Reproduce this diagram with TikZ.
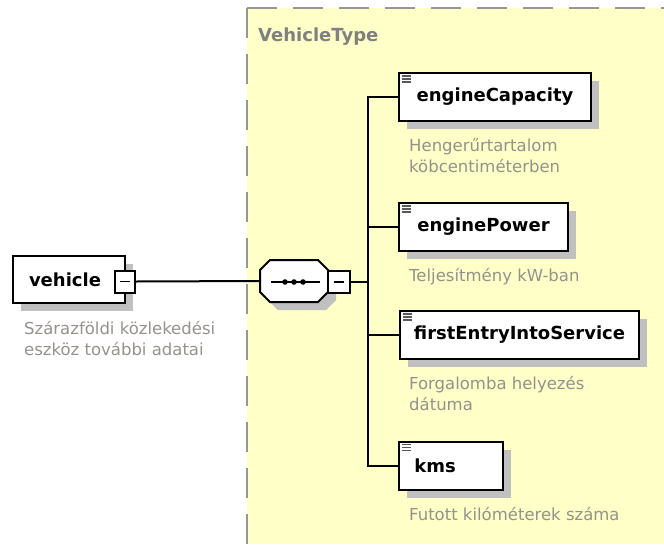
\documentclass[tikz,border=0pt]{standalone}
\usepackage{fontspec}
\setmainfont{DejaVu Sans}
\usetikzlibrary{shadows}
\definecolor{typebg}{RGB}{255,255,200}
\definecolor{bordergrey}{RGB}{150,150,150}
\definecolor{desctext}{RGB}{150,145,140}
\definecolor{typetext}{RGB}{128,128,128}
\definecolor{shadowgrey}{RGB}{192,192,192}
\begin{document}
\begin{tikzpicture}[x=1pt,y=-1pt,
  boxshadow/.style={drop shadow={shadow xshift=8pt,shadow yshift=-8pt,fill=shadowgrey,opacity=1}},
  elembox/.style={draw=black,line width=2pt,fill=white,rectangle,inner sep=0pt,
    minimum height=48pt,anchor=west,boxshadow,
    font=\bfseries\fontsize{18}{21}\selectfont},
  minusbox/.style={draw=black,line width=2pt,fill=white,rectangle,inner sep=0pt,
    minimum width=20pt,minimum height=22pt,
    path picture={\draw[line width=1.2pt] ([xshift=-5pt]path picture bounding box.center) -- ([xshift=5pt]path picture bounding box.center);}},
  desc/.style={anchor=base west,align=left,inner sep=0pt,text=desctext,
    font=\fontsize{16.5}{21}\selectfont},
  conn/.style={draw=black,line width=2pt},
  iconline/.style={draw=black!65,line width=1.2pt}
]
\useasboundingbox (0,0) rectangle (664,544);
% type area
\fill[typebg] (247,8) rectangle (664,544);
\draw[bordergrey,line width=2pt,dash pattern=on 30pt off 16pt] (247,8) -- (664,8);
\draw[bordergrey,line width=2pt,dash pattern=on 30pt off 16pt] (247,8) -- (247,544);
\node[anchor=base west,inner sep=0pt,text=typetext,font=\bfseries\fontsize{18}{21}\selectfont] (typelabel) at (258,41.5) {VehicleType};

% vehicle element
\node[elembox,anchor=center,minimum width=112pt,minimum height=47pt] (vehicle) at (69,279.5) {\raisebox{-2pt}{vehicle}\hspace*{8pt}};
\node[minusbox] (vminus) at (125,281.5) {};
\node[desc] (vdesc) at (24,355) {Szárazföldi közlekedési\\eszköz további adatai};

% sequence compositor
\coordinate (seqw) at (260,281);
\coordinate (seqe) at (328,281);
\path[draw=black,line width=2pt,fill=white,boxshadow]
  (270,260) -- (318,260) -- (328,270) -- (328,292) -- (318,302) -- (270,302) -- (260,292) -- (260,270) -- cycle;
\draw[line width=1.4pt] (271,282) -- (320,282);
\foreach \dx in {285,294,303} \fill (\dx,282) circle (2.8pt);
\node[minusbox,minimum width=22pt] (sminus) at (339,282) {};

% bus
\coordinate (busTop) at (368,97);
\coordinate (busBot) at (368,465.5);
\coordinate (busMid) at (368,282);

% children
\node[elembox,minimum width=192pt] (ec) at (398,97) {\raisebox{-2pt}{engineCapacity}};
\node[elembox,minimum width=169pt] (ep) at (398,227) {\raisebox{-2pt}{enginePower}};
\node[elembox,minimum width=239pt] (fe) at (399,335) {\raisebox{-2pt}{firstEntryIntoService}};
\node[elembox,minimum width=104pt] (km) at (398,465.5) {\hspace*{-32pt}\raisebox{-2pt}{kms}};

\foreach \n in {ec,ep,fe,km}{
  \draw[iconline] ([xshift=4pt,yshift=-4pt]\n.north west) -- ++(9,0);
  \draw[iconline] ([xshift=4pt,yshift=-7pt]\n.north west) -- ++(9,0);
  \draw[iconline] ([xshift=4pt,yshift=-10pt]\n.north west) -- ++(9,0);
}

\node[desc] (ecd) at (409,172) {Hengerűrtartalom\\köbcentiméterben};
\node[desc] (epd) at (409,281) {Teljesítmény kW-ban};
\node[desc] (fed) at (409,410) {Forgalomba helyezés\\dátuma};
\node[desc] (kmd) at (409,520) {Futott kilóméterek száma};

% connectors
\draw[conn] (vminus.east) -- (seqw);
\draw[conn] (sminus.east) -- (busMid);
\draw[conn,line cap=rect] (busTop) -- (busBot);
\draw[conn] (busTop) -- (ec.west);
\draw[conn] (ep.west -| busTop) -- (ep.west);
\draw[conn] (fe.west -| busTop) -- (fe.west);
\draw[conn] (busBot) -- (km.west);
\end{tikzpicture}
\end{document}
